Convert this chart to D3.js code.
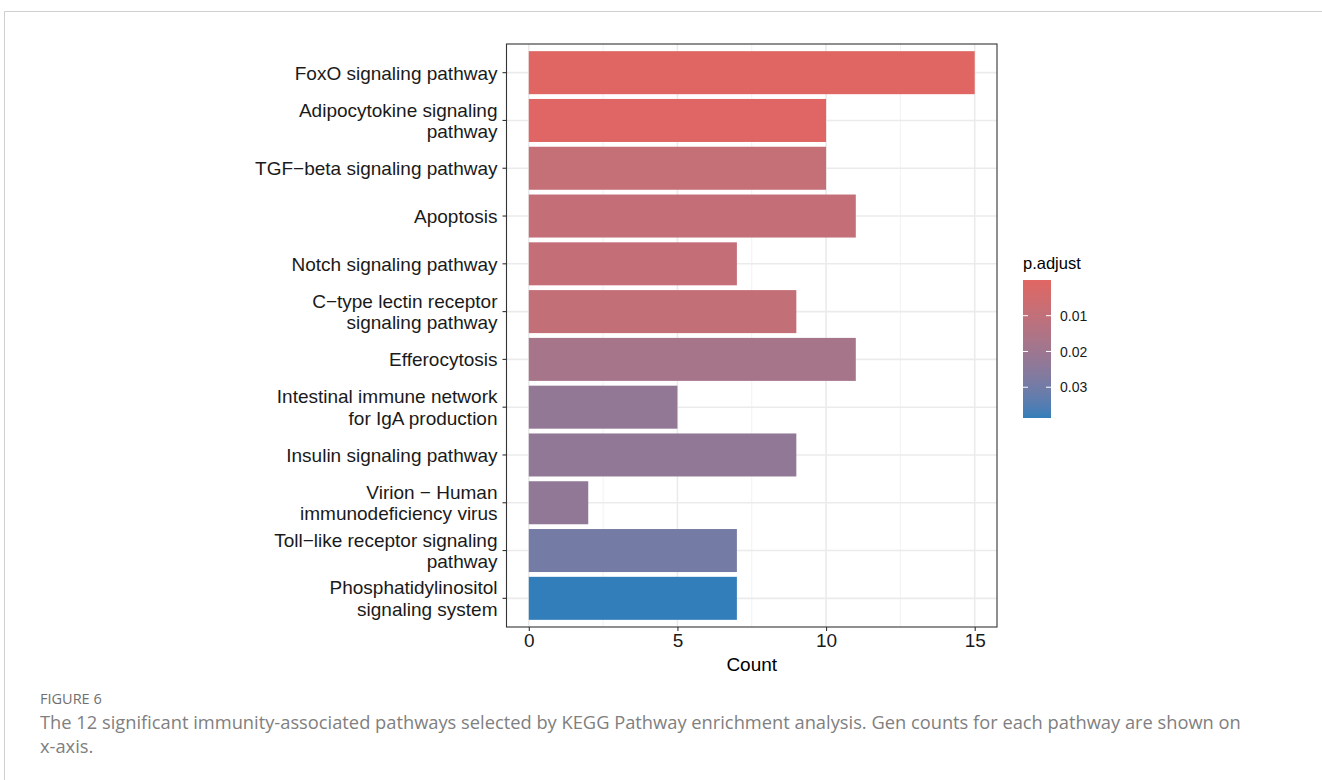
<!DOCTYPE html>
<html>
<head>
<meta charset="utf-8">
<script src="https://cdn.jsdelivr.net/npm/d3@7"></script>
<style>
  html, body { margin: 0; padding: 0; background: #fff; }
  svg { display: block; }
</style>
</head>
<body>
<svg id="fig" width="1322" height="780"></svg>
<script>
// KEGG pathways (top to bottom), gene counts and adjusted p-values
const pathways = [
  "FoxO signaling pathway",
  "Adipocytokine signaling\npathway",
  "TGF\u2212beta signaling pathway",
  "Apoptosis",
  "Notch signaling pathway",
  "C\u2212type lectin receptor\nsignaling pathway",
  "Efferocytosis",
  "Intestinal immune network\nfor IgA production",
  "Insulin signaling pathway",
  "Virion \u2212 Human\nimmunodeficiency virus",
  "Toll\u2212like receptor signaling\npathway",
  "Phosphatidylinositol\nsignaling system"
];
const counts = [15, 10, 10, 11, 7, 9, 11, 5, 9, 2, 7, 7];
const pAdjust = [0.00002, 0.0003, 0.0088, 0.0090, 0.0091, 0.0093, 0.0175, 0.0228, 0.0230, 0.0232, 0.0295, 0.0386];

const xTicks = [0, 5, 10, 15];
const xMinorTicks = [2.5, 7.5, 12.5];
const legendTicks = [0.01, 0.02, 0.03];

const captionLabel = "FIGURE 6";
const captionLines = [
  "The 12 significant immunity-associated pathways selected by KEGG Pathway enrichment analysis. Gen counts for each pathway are shown on",
  "x-axis."
];

const svg = d3.select("#fig");

// page frame
svg.append("path")
  .attr("d", "M4.5,780 L4.5,11.5 L1322,11.5")
  .attr("fill", "none")
  .attr("stroke", "#cfcfcf")
  .attr("stroke-width", 1);

// plotting panel
const panel = { left: 506.5, right: 997, top: 44, bottom: 627 };
const xPad = (15 - 0) * 0.05;
const x = d3.scaleLinear()
  .domain([0 - xPad, 15 + xPad])
  .range([panel.left, panel.right]);

// discrete axis: 0.6 step of expansion on each side, bars 90% of a step
const y = d3.scaleBand()
  .domain(pathways)
  .range([panel.top, panel.bottom])
  .paddingInner(0.1)
  .paddingOuter(0.15);

// continuous fill: low p.adjust red, high blue
const pExtent = d3.extent(pAdjust);
const fill = d3.scaleLinear()
  .domain(pExtent)
  .range(["#e06663", "#327eba"])
  .interpolate(d3.interpolateLab);

const font = "'Liberation Sans', Arial, Helvetica, sans-serif";
const axisSize = "19px";

// gridlines
const grid = svg.append("g");
grid.selectAll("line.minor").data(xMinorTicks).join("line")
  .attr("x1", d => x(d)).attr("x2", d => x(d))
  .attr("y1", panel.top).attr("y2", panel.bottom)
  .attr("stroke", "#f2f2f2").attr("stroke-width", 1);
grid.selectAll("line.major").data(xTicks).join("line")
  .attr("x1", d => x(d)).attr("x2", d => x(d))
  .attr("y1", panel.top).attr("y2", panel.bottom)
  .attr("stroke", "#ebebeb").attr("stroke-width", 1.6);
grid.selectAll("line.hy").data(pathways).join("line")
  .attr("x1", panel.left).attr("x2", panel.right)
  .attr("y1", d => y(d) + y.bandwidth() / 2).attr("y2", d => y(d) + y.bandwidth() / 2)
  .attr("stroke", "#ebebeb").attr("stroke-width", 1.6);

// bars
svg.append("g").selectAll("rect").data(pathways).join("rect")
  .attr("x", x(0))
  .attr("y", d => y(d))
  .attr("width", (d, i) => x(counts[i]) - x(0))
  .attr("height", y.bandwidth())
  .attr("fill", (d, i) => fill(pAdjust[i]));

// panel border
svg.append("rect")
  .attr("x", panel.left).attr("y", panel.top)
  .attr("width", panel.right - panel.left).attr("height", panel.bottom - panel.top)
  .attr("fill", "none").attr("stroke", "#333333").attr("stroke-width", 1.1);

// x axis
const xAxis = svg.append("g")
  .attr("transform", `translate(0,${panel.bottom})`)
  .call(d3.axisBottom(x).tickValues(xTicks).tickSize(4).tickPadding(3).tickFormat(d3.format("d")));
xAxis.select(".domain").remove();
xAxis.selectAll(".tick line").attr("stroke", "#333333").attr("stroke-width", 1.1);
xAxis.selectAll(".tick text")
  .attr("fill", "#1a1a1a")
  .style("font-family", font).style("font-size", axisSize);

svg.append("text")
  .attr("x", (panel.left + panel.right) / 2)
  .attr("y", 671)
  .attr("text-anchor", "middle")
  .style("font-family", font).style("font-size", axisSize)
  .attr("fill", "#000")
  .text("Count");

// y axis
const yAxis = svg.append("g")
  .attr("transform", `translate(${panel.left},0)`)
  .call(d3.axisLeft(y).tickSize(4).tickPadding(5));
yAxis.select(".domain").remove();
yAxis.selectAll(".tick line").attr("stroke", "#333333").attr("stroke-width", 1.1);
yAxis.selectAll(".tick text").each(function(d) {
  const t = d3.select(this);
  const lines = d.split("\n");
  const lh = 21.5;
  t.text(null)
    .attr("fill", "#1a1a1a")
    .style("font-family", font).style("font-size", axisSize)
    .attr("dy", null)
    .attr("y", 0);
  lines.forEach((ln, k) => {
    t.append("tspan")
      .attr("x", -9)
      .attr("y", (k - (lines.length - 1) / 2) * lh)
      .attr("dy", "0.36em")
      .text(ln);
  });
});

// colour bar legend
const legend = { x: 1023, y: 280, w: 28, h: 138 };
svg.append("text")
  .attr("x", legend.x).attr("y", 269)
  .style("font-family", font).style("font-size", "16.5px")
  .attr("fill", "#000")
  .text("p.adjust");

const defs = svg.append("defs");
const grad = defs.append("linearGradient")
  .attr("id", "padjGrad")
  .attr("x1", 0).attr("y1", 0).attr("x2", 0).attr("y2", 1);
d3.range(0, 1.0001, 0.02).forEach(f => {
  grad.append("stop")
    .attr("offset", f)
    .attr("stop-color", fill(pExtent[0] + f * (pExtent[1] - pExtent[0])));
});
svg.append("rect")
  .attr("x", legend.x).attr("y", legend.y)
  .attr("width", legend.w).attr("height", legend.h)
  .attr("fill", "url(#padjGrad)");

const ly = d3.scaleLinear().domain(pExtent).range([legend.y, legend.y + legend.h]);
const lg = svg.append("g");
lg.selectAll("line.l").data(legendTicks).join("line")
  .attr("x1", legend.x).attr("x2", legend.x + 5)
  .attr("y1", d => ly(d)).attr("y2", d => ly(d))
  .attr("stroke", "#ffffff").attr("stroke-width", 1);
lg.selectAll("line.r").data(legendTicks).join("line")
  .attr("x1", legend.x + legend.w - 5).attr("x2", legend.x + legend.w)
  .attr("y1", d => ly(d)).attr("y2", d => ly(d))
  .attr("stroke", "#ffffff").attr("stroke-width", 1);
lg.selectAll("text").data(legendTicks).join("text")
  .attr("x", legend.x + legend.w + 9)
  .attr("y", d => ly(d))
  .attr("dy", "0.36em")
  .style("font-family", font).style("font-size", "14px")
  .attr("fill", "#1a1a1a")
  .text(d => d3.format(".2f")(d));

// caption
const capFont = "'Open Sans', 'Noto Sans', sans-serif";
svg.append("text")
  .attr("x", 40).attr("y", 704)
  .style("font-family", capFont).style("font-size", "14.5px")
  .attr("fill", "#707070")
  .text(captionLabel);
svg.append("g").selectAll("text").data(captionLines).join("text")
  .attr("x", 40)
  .attr("y", (d, i) => 729 + i * 23.5)
  .style("font-family", capFont).style("font-size", "18.3px")
  .attr("fill", "#808080")
  .text(d => d);
</script>
</body>
</html>
